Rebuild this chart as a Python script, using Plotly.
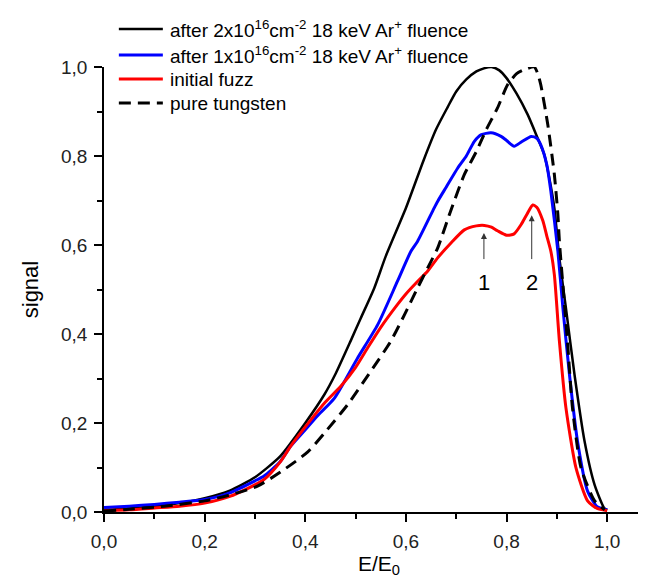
import plotly.graph_objects as go

# ---- data ----
x_black = [0.0, 0.05, 0.1, 0.15, 0.2, 0.25, 0.3, 0.35, 0.4, 0.438, 0.46, 0.49, 0.51, 0.537, 0.56,
           0.6, 0.635, 0.66, 0.683, 0.7, 0.72, 0.74, 0.755, 0.77, 0.785, 0.8, 0.82, 0.842, 0.86,
           0.875, 0.885, 0.895, 0.905, 0.918, 0.935, 0.955, 0.975, 0.994, 1.0]
y_black = [0.005, 0.008, 0.013, 0.02, 0.031, 0.048, 0.078, 0.125, 0.2, 0.264, 0.31, 0.384, 0.435, 0.503, 0.575,
           0.683, 0.79, 0.86, 0.91, 0.945, 0.972, 0.99, 0.997, 1.0, 0.993, 0.975, 0.94, 0.893, 0.845,
           0.803, 0.75, 0.683, 0.57, 0.458, 0.309, 0.159, 0.061, 0.009, 0.005]

x_blue = [0.0, 0.05, 0.1, 0.15, 0.2, 0.25, 0.3, 0.318, 0.35, 0.371, 0.4, 0.424, 0.458, 0.504, 0.544,
          0.583, 0.61, 0.623, 0.656, 0.663, 0.68, 0.703, 0.72, 0.736, 0.75, 0.769, 0.789, 0.8, 0.815,
          0.83, 0.849, 0.86, 0.868, 0.88, 0.888, 0.902, 0.912, 0.925, 0.941, 0.961, 0.98, 1.0]
y_blue = [0.01, 0.013, 0.017, 0.022, 0.028, 0.043, 0.07, 0.081, 0.113, 0.148, 0.185, 0.216, 0.256, 0.346, 0.421,
          0.518, 0.586, 0.608, 0.683, 0.698, 0.73, 0.773, 0.8, 0.833, 0.848, 0.852, 0.844, 0.835, 0.822,
          0.832, 0.844, 0.84, 0.825, 0.78, 0.721, 0.586, 0.458, 0.309, 0.159, 0.047, 0.012, 0.005]

x_red = [0.0, 0.05, 0.1, 0.15, 0.2, 0.25, 0.318, 0.35, 0.371, 0.411, 0.44, 0.471, 0.5, 0.524, 0.55,
         0.583, 0.6, 0.623, 0.643, 0.663, 0.69, 0.716, 0.74, 0.756, 0.77, 0.782, 0.8, 0.815, 0.829,
         0.84, 0.852, 0.86, 0.872, 0.88, 0.888, 0.895, 0.905, 0.918, 0.938, 0.961, 0.98, 1.0]
y_red = [0.003, 0.005, 0.009, 0.013, 0.02, 0.035, 0.073, 0.112, 0.148, 0.207, 0.247, 0.283, 0.325, 0.369, 0.415,
         0.466, 0.49, 0.518, 0.541, 0.571, 0.605, 0.634, 0.643, 0.644, 0.64, 0.632, 0.622, 0.625, 0.646,
         0.668, 0.69, 0.685, 0.655, 0.62, 0.586, 0.533, 0.384, 0.234, 0.099, 0.025, 0.008, 0.003]

x_pure = [0.0, 0.05, 0.12, 0.2, 0.252, 0.305, 0.351, 0.405, 0.44, 0.484, 0.53, 0.57, 0.597, 0.623, 0.643,
          0.663, 0.69, 0.716, 0.74, 0.76, 0.782, 0.802, 0.82, 0.835, 0.855, 0.862, 0.868, 0.882, 0.895,
          0.902, 0.905, 0.921, 0.931, 0.948, 0.975, 0.995]
y_pure = [0.002, 0.006, 0.013, 0.025, 0.039, 0.058, 0.09, 0.135, 0.18, 0.241, 0.316, 0.384, 0.443, 0.503, 0.548,
          0.593, 0.68, 0.758, 0.81, 0.86, 0.908, 0.96, 0.985, 0.994, 1.0, 0.985, 0.96, 0.87, 0.758,
          0.668, 0.608, 0.384, 0.234, 0.099, 0.025, 0.005]

names = ["after 2x10<sup>16</sup>cm<sup>-2</sup> 18 keV Ar<sup>+</sup> fluence",
         "after 1x10<sup>16</sup>cm<sup>-2</sup> 18 keV Ar<sup>+</sup> fluence",
         "initial fuzz",
         "pure tungsten"]

peak_labels = ["1", "2"]
peak_x = [0.755, 0.85]
peak_tip_y = [0.627, 0.667]
peak_tail_y = [0.565, 0.565]
label_y = 0.515

FONT = "Liberation Sans, Arial, sans-serif"
SM = 0.6

colors = ["black", "#0000ff", "#ff0000", "black"]
widths = [2.5, 3, 3, 3]
dashes = ["solid", "solid", "solid", "12px,7px"]
xs = [x_black, x_blue, x_red, x_pure]
ys = [y_black, y_blue, y_red, y_pure]

fig = go.Figure()
for xv, yv, nm, c, w, d in zip(xs, ys, names, colors, widths, dashes):
    fig.add_trace(go.Scatter(x=xv, y=yv, mode="lines", name=nm, showlegend=False,
                             line=dict(color=c, width=w, dash=d, shape="spline", smoothing=SM)))

# manual legend (paper coordinates)
leg_y = [1.0854, 1.027, 0.973, 0.919]
for nm, c, w, d, ly in zip(names, colors, widths, dashes, leg_y):
    fig.add_shape(type="line", xref="paper", yref="paper", x0=0.027, x1=0.107, y0=ly, y1=ly,
                  line=dict(color=c, width=w, dash=d))
    fig.add_annotation(xref="paper", yref="paper", x=0.116, y=ly, xanchor="left", yanchor="middle",
                       text=nm, showarrow=False, font=dict(family=FONT, size=19, color="black"))

for lab, px, ty, ay in zip(peak_labels, peak_x, peak_tip_y, peak_tail_y):
    fig.add_annotation(x=px, y=ty, ax=px, ay=ay, axref="x", ayref="y", xref="x", yref="y",
                       text="", showarrow=True, arrowhead=2, arrowsize=1.2, arrowwidth=1,
                       arrowcolor="#333333", standoff=0, startstandoff=0)
    fig.add_annotation(x=px, y=label_y, xref="x", yref="y", text=lab, showarrow=False,
                       font=dict(family=FONT, size=22, color="black"))

axis_common = dict(showline=True, linecolor="black", linewidth=1.5, ticks="outside",
                   ticklen=8, tickwidth=1.5, tickcolor="black", showgrid=False, zeroline=False,
                   tickformat=".1f", tick0=0, dtick=0.2, ticklabelstandoff=3,
                   tickfont=dict(family=FONT, size=19, color="#222222"),
                   minor=dict(ticks="outside", dtick=0.1, ticklen=5, tickwidth=1.5, tickcolor="black"))

fig.update_layout(
    width=646, height=577,
    margin=dict(l=96, r=0, t=59, b=73),
    paper_bgcolor="white", plot_bgcolor="white",
    separators=",.",
    font=dict(family=FONT, color="black"),
    xaxis=dict(range=[0, 1.093], title=dict(text="E/E<sub>0</sub>", font=dict(size=21), standoff=1),
               **axis_common),
    yaxis=dict(range=[0, 1.0], title=dict(text="signal", font=dict(size=22), standoff=16),
               **axis_common),
    showlegend=False,
)

fig.write_html("out.html")
